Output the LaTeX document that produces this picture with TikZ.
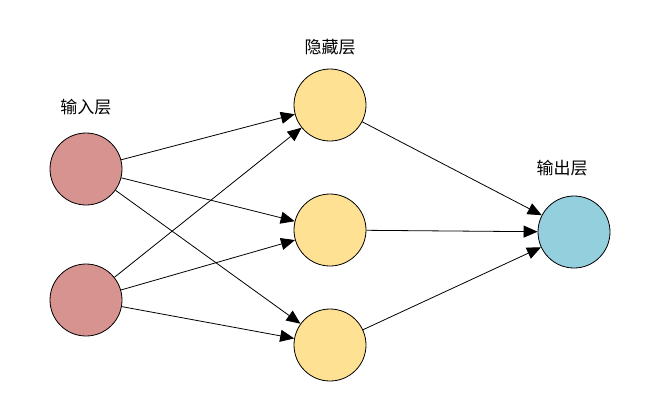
\documentclass[tikz,border=0pt]{standalone}
\usepackage{fontspec}
\setmainfont{Noto Sans CJK SC}
\usetikzlibrary{arrows.meta}
\tikzset{
  neuron/.style={circle, draw=black, thin, minimum size=36pt, inner sep=0pt},
  inneuron/.style={neuron, fill=inred},
  hidneuron/.style={neuron, fill=hidyellow},
  outneuron/.style={neuron, fill=outblue},
  link/.style={-{Triangle[length=7pt,width=6pt]}, thin},
  layername/.style={font=\fontsize{8.5}{10}\selectfont}
}
\definecolor{inred}{HTML}{D6938F}
\definecolor{hidyellow}{HTML}{FFE193}
\definecolor{outblue}{HTML}{94CFDD}
\begin{document}
\begin{tikzpicture}[x=0.5pt,y=-0.5pt]
    \useasboundingbox (0,0) rectangle (670,409);

    % Couches
    \node[inneuron] (i1) at (86,169) {};
    \node[inneuron] (i2) at (86,300) {};
    \node[hidneuron] (h1) at (330,105) {};
    \node[hidneuron] (h2) at (330,230) {};
    \node[hidneuron] (h3) at (330,345) {};
    \node[outneuron] (o1) at (574,232) {};

    % Noms des couches
    \node[layername] (lin) at (86,107) {输入层};
    \node[layername] (lhid) at (330,47) {隐藏层};
    \node[layername] (lout) at (562,168) {输出层};

    % Liaisons
    \foreach \a in {i1,i2}
      \foreach \b in {h1,h2,h3}
        \draw[link] (\a) -- (\b);
    \foreach \b in {h1,h2,h3}
      \draw[link] (\b) -- (o1);
\end{tikzpicture}
\end{document}
